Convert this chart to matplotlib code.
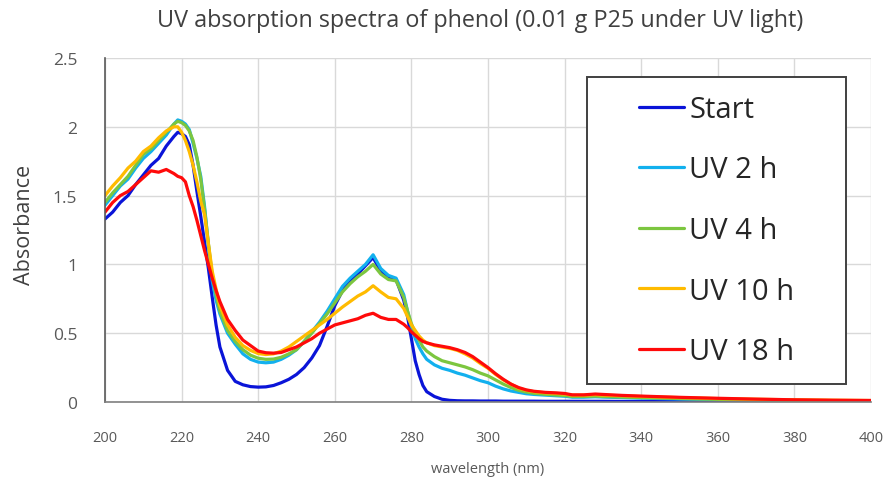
import matplotlib
matplotlib.use("Agg")
import matplotlib.pyplot as plt
from matplotlib.patches import Rectangle

wavelength = [200, 202, 204, 206, 208, 210, 212, 214, 216, 218, 219, 220, 221, 222, 223, 224,
              225, 226, 227, 228, 229, 230, 232, 234, 236, 238, 240, 242, 244, 246, 248, 250,
              252, 254, 256, 258, 260, 262, 264, 266, 268, 270, 272, 274, 276, 278, 279, 280,
              281, 282, 283, 284, 286, 288, 290, 292, 294, 296, 298, 300, 302, 304, 306, 308,
              310, 312, 315, 318, 320, 322, 325, 328, 330, 335, 340, 350, 360, 370, 380, 390, 400]

start = [1.33, 1.38, 1.45, 1.50, 1.58, 1.65, 1.72, 1.77, 1.86, 1.93, 1.96, 1.95, 1.93, 1.87, 1.72, 1.53,
         1.35, 1.16, 0.97, 0.76, 0.56, 0.40, 0.23, 0.15, 0.125, 0.112, 0.108, 0.11, 0.12, 0.14, 0.165, 0.20,
         0.25, 0.32, 0.41, 0.55, 0.70, 0.81, 0.88, 0.93, 0.99, 1.05, 0.95, 0.91, 0.89, 0.74, 0.62, 0.46,
         0.30, 0.20, 0.12, 0.075, 0.04, 0.02, 0.012, 0.009, 0.008, 0.008, 0.007, 0.007, 0.007, 0.006, 0.006, 0.006,
         0.006, 0.006, 0.005, 0.005, 0.005, 0.005, 0.005, 0.005, 0.005, 0.004, 0.004, 0.004, 0.004, 0.003, 0.003, 0.003, 0.003]

uv2 = [1.43, 1.50, 1.57, 1.62, 1.70, 1.77, 1.82, 1.88, 1.94, 2.02, 2.05, 2.04, 2.02, 1.98, 1.88, 1.77,
       1.64, 1.42, 1.14, 0.88, 0.74, 0.64, 0.50, 0.42, 0.35, 0.31, 0.29, 0.285, 0.29, 0.31, 0.34, 0.38,
       0.44, 0.51, 0.58, 0.66, 0.75, 0.84, 0.90, 0.95, 1.00, 1.07, 0.97, 0.92, 0.90, 0.78, 0.66, 0.55,
       0.46, 0.40, 0.35, 0.31, 0.27, 0.245, 0.23, 0.21, 0.195, 0.175, 0.155, 0.14, 0.115, 0.095, 0.08, 0.07,
       0.06, 0.055, 0.05, 0.045, 0.042, 0.035, 0.035, 0.038, 0.036, 0.032, 0.028, 0.022, 0.017, 0.013, 0.010, 0.008, 0.007]

uv4 = [1.45, 1.52, 1.58, 1.64, 1.72, 1.80, 1.84, 1.90, 1.96, 2.02, 2.04, 2.03, 2.01, 1.97, 1.90, 1.78,
       1.62, 1.40, 1.15, 0.92, 0.78, 0.66, 0.52, 0.44, 0.38, 0.34, 0.318, 0.31, 0.312, 0.325, 0.35, 0.38,
       0.44, 0.50, 0.57, 0.64, 0.72, 0.80, 0.86, 0.91, 0.95, 1.00, 0.93, 0.89, 0.88, 0.76, 0.66, 0.57,
       0.50, 0.45, 0.40, 0.37, 0.33, 0.30, 0.285, 0.27, 0.255, 0.235, 0.21, 0.19, 0.16, 0.13, 0.105, 0.085,
       0.072, 0.063, 0.056, 0.05, 0.047, 0.04, 0.04, 0.043, 0.04, 0.036, 0.032, 0.025, 0.019, 0.015, 0.012, 0.010, 0.009]

uv10 = [1.50, 1.57, 1.63, 1.70, 1.75, 1.82, 1.86, 1.92, 1.97, 2.00, 2.00, 1.96, 1.90, 1.82, 1.72, 1.60,
        1.46, 1.36, 1.15, 0.95, 0.82, 0.70, 0.56, 0.47, 0.41, 0.375, 0.352, 0.345, 0.35, 0.37, 0.40, 0.44,
        0.48, 0.52, 0.56, 0.60, 0.645, 0.69, 0.73, 0.77, 0.80, 0.845, 0.80, 0.76, 0.75, 0.68, 0.62, 0.56,
        0.52, 0.48, 0.45, 0.43, 0.41, 0.40, 0.39, 0.375, 0.35, 0.32, 0.28, 0.245, 0.20, 0.16, 0.13, 0.10,
        0.085, 0.075, 0.067, 0.062, 0.058, 0.05, 0.05, 0.053, 0.05, 0.045, 0.04, 0.032, 0.025, 0.02, 0.016, 0.013, 0.011]

uv18 = [1.38, 1.45, 1.50, 1.53, 1.58, 1.63, 1.68, 1.67, 1.69, 1.66, 1.64, 1.63, 1.60, 1.50, 1.42, 1.32,
        1.21, 1.10, 1.00, 0.90, 0.81, 0.73, 0.60, 0.52, 0.45, 0.41, 0.37, 0.358, 0.355, 0.36, 0.38, 0.40,
        0.43, 0.46, 0.50, 0.53, 0.56, 0.575, 0.59, 0.605, 0.63, 0.645, 0.615, 0.60, 0.60, 0.565, 0.54, 0.51,
        0.485, 0.46, 0.44, 0.43, 0.415, 0.405, 0.395, 0.38, 0.36, 0.33, 0.29, 0.25, 0.205, 0.165, 0.13, 0.105,
        0.088, 0.078, 0.07, 0.066, 0.062, 0.052, 0.052, 0.058, 0.055, 0.048, 0.043, 0.034, 0.027, 0.021, 0.016, 0.013, 0.011]

series_names = ["Start", "UV 2 h", "UV 4 h", "UV 10 h", "UV 18 h"]
series_values = [start, uv2, uv4, uv10, uv18]
colors = ["#0a14d8", "#12b0ee", "#7cc63f", "#ffbb00", "#ff0a0a"]

x_ticks = [200, 220, 240, 260, 280, 300, 320, 340, 360, 380, 400]
y_ticks = [0, 0.5, 1, 1.5, 2, 2.5]
y_tick_labels = ["0", "0.5", "1", "1.5", "2", "2.5"]

plt.rcParams['font.family'] = ['Open Sans', 'DejaVu Sans']

fig = plt.figure(figsize=(8.9, 4.81), dpi=100)
ax = fig.add_axes([105/890, 1 - 403/481, (871 - 105)/890, (403 - 59)/481])

for name, vals, c in zip(series_names, series_values, colors):
    ax.plot(wavelength, vals, color=c, lw=2.3, label=name, solid_capstyle='round', solid_joinstyle='round')

ax.set_xlim(200, 400)
ax.set_ylim(0, 2.5)
ax.set_xticks(x_ticks)
ax.set_yticks(y_ticks)
ax.set_yticklabels(y_tick_labels)
ax.grid(True, color="#d9d9d9", lw=1.0)
ax.set_axisbelow(True)
for s in ["top", "right"]:
    ax.spines[s].set_visible(False)
ax.spines["left"].set_color("#595959")
ax.spines["bottom"].set_color("#7f7f7f")
ax.spines["left"].set_linewidth(1.2)
ax.spines["bottom"].set_linewidth(1.2)
ax.tick_params(axis="both", length=0, colors="#595959")
ax.tick_params(axis="x", labelsize=10.5, pad=20)
ax.tick_params(axis="y", labelsize=12.5, pad=20)

ax.set_xlabel("wavelength (nm)", fontsize=10.5, color="#595959", labelpad=12)
fig.text(25/890, 1 - 225/481, "Absorbance", rotation=90, fontsize=15.5, color="#404040",
         ha="center", va="center")
fig.text(480/890, 1 - 21/481, "UV absorption spectra of phenol (0.01 g P25 under UV light)",
         fontsize=16.8, color="#404040", ha="center", va="center")

ax.add_patch(Rectangle((587/890, 1 - 385/481), (846 - 587)/890, (385 - 78)/481,
                       transform=fig.transFigure, fill=True, facecolor="white",
                       edgecolor="#404040", lw=1.4, zorder=5, clip_on=False))
leg = ax.legend(loc="center", bbox_to_anchor=(716.5/890, 1 - 231.5/481),
                bbox_transform=fig.transFigure, frameon=False, fontsize=21,
                handlelength=1.55, handletextpad=0.17, labelspacing=1.08)
leg.set_zorder(6)
for t in leg.get_texts():
    t.set_color("#262626")

fig.savefig("out.png", dpi=100)
